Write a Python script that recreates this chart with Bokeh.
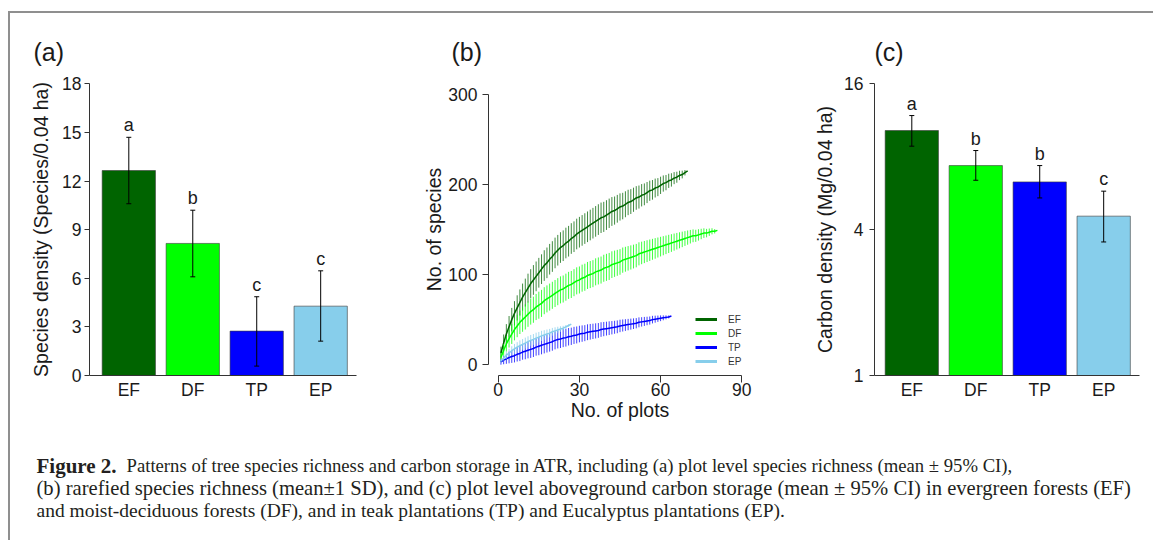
from bokeh.plotting import figure
from bokeh.models import (Range1d, ColumnDataSource, Whisker, TeeHead, FixedTicker, Title,
                          Label, Legend, LegendItem, Spacer, BasicTickFormatter)
from bokeh.layouts import row, column
from bokeh.core.properties import value
from bokeh.embed import file_html
from bokeh.resources import INLINE

FONT = "Liberation Sans"
SERIF = "Liberation Serif"
INK = "#1a1a1a"
AXIS = "#333333"
FRAME_GRAY = "#8f8f8f"

# ---------------- data ----------------
categories = ["EF", "DF", "TP", "EP"]
group_colors = ["#006400", "#00FF00", "#0000FF", "#87CEEB"]

species_density = [12.65, 8.15, 2.74, 4.28]
species_ci_low = [10.6, 6.09, 0.58, 2.12]
species_ci_high = [14.7, 10.2, 4.86, 6.46]
species_letters = ["a", "b", "c", "c"]
species_ticks = [0, 3, 6, 9, 12, 15, 18]

carbon_density = [10.27, 7.36, 6.30, 4.55]
carbon_ci_low = [8.85, 6.40, 5.41, 3.56]
carbon_ci_high = [11.84, 8.49, 7.36, 5.77]
carbon_letters = ["a", "b", "b", "c"]
carbon_ticks = [1, 4, 16]

plots_ticks = [0, 30, 60, 90]
rich_ticks = [0, 100, 200, 300]

ef_mean = [13, 24, 34, 42, 50, 57, 63, 69, 75, 80,
           85, 90, 94, 98, 102, 106, 110, 113, 117, 120, 124, 127,
           130, 132, 135, 137, 140, 142, 145, 147, 149, 151, 153, 155,
           157, 159, 161, 163, 164, 166, 168, 170, 171, 173, 175, 176,
           178, 180, 181, 183, 185, 186, 188, 189, 191, 193, 194, 196,
           197, 199, 201, 202, 204, 205, 207, 208, 210, 211, 213, 215]
ef_sd = [7, 9.5, 11, 12, 13, 13.5, 14, 14.5, 15, 15.5,
         16, 16, 16.5, 16.5, 16.5, 16.5, 17, 17, 17, 17,
         17, 17, 17, 17, 17, 17, 17, 17, 17, 17,
         17, 17, 17, 17, 17, 17, 17, 16.9, 16.7, 16.5,
         16.3, 16.0, 15.6, 15.4, 15.1, 14.7, 14.4, 14.1, 13.8, 13.4,
         13.1, 12.8, 12.4, 12.1, 11.7, 11.2, 10.9, 10.5, 10.0, 9.6,
         9.0, 8.5, 7.9, 7.4, 6.7, 6.1, 5.2, 4.3, 3.0, 0]

df_mean = [8, 16, 23, 29, 34, 39, 43, 47, 50, 53,
           56, 59, 61, 64, 66, 68, 71, 73, 75, 77, 79, 81,
           83, 84, 86, 88, 89, 91, 93, 94, 96, 97, 99, 100,
           101, 103, 104, 105, 107, 108, 109, 111, 112, 113, 114, 116,
           117, 118, 119, 120, 121, 123, 124, 125, 126, 127, 128, 129,
           130, 131, 132, 133, 134, 135, 136, 137, 138, 139, 140, 141,
           142, 143, 143, 144, 145, 146, 146, 147, 148, 148, 149]
df_sd = [5, 7, 8.5, 10, 11, 12, 12.5, 13, 13.5, 14,
         14, 14.5, 14.5, 14.5, 15, 15, 15, 15, 15, 15,
         15, 15, 15, 15, 15, 15, 15, 15, 15, 15,
         15, 15, 15, 15, 15, 15, 15, 15, 15, 15,
         15, 14.8, 14.6, 14.4, 14.2, 14.0, 13.8, 13.6, 13.4, 13.2,
         13.0, 12.8, 12.5, 12.3, 12.1, 11.9, 11.6, 11.4, 11.1, 10.9,
         10.6, 10.3, 10.1, 9.8, 9.5, 9.2, 8.9, 8.6, 8.2, 7.9,
         7.5, 7.1, 6.7, 6.3, 5.8, 5.3, 4.7, 4.1, 3.4, 2.4, 0]

tp_mean = [3, 5, 6.5, 8, 9, 10, 11.5, 12.5, 14, 15,
           16, 17, 18, 19.5, 20.5, 21.5, 22.5, 23.5, 24.5, 25.5, 27, 28,
           28.5, 29.5, 30, 31, 31.5, 32.5, 33, 34, 34.5, 35, 36, 36.5,
           37, 37.5, 38, 39, 39.5, 40, 40.5, 41, 41.5, 42, 43, 43.5,
           44, 44.5, 45, 45.5, 46, 47, 47.5, 48, 48.5, 49, 50, 50.5,
           51, 51.5, 52, 52.5, 53, 54]
tp_sd = [3, 4.5, 5.5, 6.5, 7, 7.5, 8, 8.5, 8.5, 9,
         9, 9.5, 9.5, 9.5, 10, 10, 10, 10, 10, 10, 10, 10, 10,
         10, 9.9, 9.7, 9.6, 9.5, 9.4, 9.2, 9.1, 8.9, 8.8,
         8.7, 8.5, 8.4, 8.2, 8.1, 7.9, 7.7, 7.6, 7.4, 7.2,
         7.1, 6.9, 6.7, 6.5, 6.3, 6.1, 5.9, 5.7, 5.5, 5.2,
         5.0, 4.7, 4.5, 4.2, 3.9, 3.5, 3.2, 2.7, 2.2, 1.6, 0]

ep_mean = [4, 7.5, 10.5, 13, 15.5, 17.5, 19.5, 21, 22.5, 24,
           25.5, 27, 28, 29.5, 30.5, 32, 33, 34, 35, 36.5,
           37.5, 38.5, 39.5, 40.5, 42, 43.5, 45]
ep_sd = [2, 3, 4, 4.5, 5, 5.5, 5.5, 6, 6, 6,
         6, 6, 6, 6, 5.8, 5.6, 5.3, 5.0, 4.7, 4.3,
         4.0, 3.6, 3.1, 2.6, 2.0, 1.4, 0]

rarefaction = {"EF": (ef_mean, ef_sd), "DF": (df_mean, df_sd),
               "TP": (tp_mean, tp_sd), "EP": (ep_mean, ep_sd)}

caption_bold = "Figure 2."
caption_line1 = ("Patterns of tree species richness and carbon storage in ATR, including (a) plot "
                 "level species richness (mean \u00b1 95% CI),")
caption_line2 = ("(b) rarefied species richness (mean\u00b11 SD), and (c) plot level aboveground carbon "
                 "storage (mean \u00b1 95% CI) in evergreen forests (EF)")
caption_line3 = ("and moist-deciduous forests (DF), and in teak plantations (TP) and Eucalyptus "
                 "plantations (EP).")

# bar positions as in R's barplot (width 1, space 0.2)
bar_centers = [0.7 + 1.2 * i for i in range(len(categories))]

TOP, FRAME_H, BOTTOM = 70, 292, 50


def style_axis(ax):
    ax.axis_line_color = AXIS
    ax.axis_line_width = 1
    ax.major_tick_line_color = AXIS
    ax.minor_tick_line_color = None
    ax.major_label_text_font = FONT
    ax.major_label_text_font_size = "17.5px"
    ax.major_label_text_color = INK
    ax.axis_label_text_font = FONT
    ax.axis_label_text_font_size = "19.5px"
    ax.axis_label_text_font_style = "normal"
    ax.axis_label_text_color = INK


def clean(p):
    p.xgrid.visible = False
    p.ygrid.visible = False
    p.outline_line_color = None
    p.background_fill_color = None
    p.border_fill_color = None


def panel_title(text, offset):
    return Title(text=text, align="left", offset=offset, standoff=35, text_font=FONT,
                 text_font_size="25px", text_font_style="normal", text_color=INK)


def bar_panel(values, lo, hi, letters, ticks, ylabel, log, frame_w, min_left, min_right,
              x_range, y_range, bounds, label_standoff, title_standoff, title):
    kw = dict(y_axis_type="log") if log else {}
    p = figure(frame_width=frame_w, frame_height=FRAME_H, x_range=x_range,
               y_range=y_range, min_border_left=min_left, min_border_right=min_right,
               min_border_top=TOP, min_border_bottom=BOTTOM, output_backend="svg",
               toolbar_location=None, title=title, **kw)
    clean(p)
    src = ColumnDataSource(dict(x=bar_centers, top=values, lo=lo, hi=hi, color=group_colors,
                                letter=letters, cat=categories))
    bottom = 1 if log else 0
    p.vbar(x="x", top="top", bottom=bottom, width=1.0, fill_color="color", source=src,
           line_color="#3a3a3a", line_alpha=0.6, line_width=1)
    p.add_layout(Whisker(base="x", upper="hi", lower="lo", source=src, line_color="black",
                         line_width=1, level="overlay",
                         upper_head=TeeHead(size=5, line_color="black", line_width=1),
                         lower_head=TeeHead(size=5, line_color="black", line_width=1)))
    p.text(x="x", y="hi", text="letter", source=src, y_offset=-12, text_align="center",
           text_baseline="middle", text_font=value(FONT), text_font_size=value("18px"),
           text_color=INK)
    ya = p.yaxis[0]
    style_axis(ya)
    ya.ticker = FixedTicker(ticks=ticks)
    if log:
        ya.formatter = BasicTickFormatter()
    ya.bounds = bounds
    ya.major_tick_out = 5
    ya.major_tick_in = 0
    ya.major_label_standoff = label_standoff
    ya.axis_label = ylabel
    ya.axis_label_standoff = title_standoff
    xa = p.xaxis[0]
    style_axis(xa)
    xa.ticker = FixedTicker(ticks=bar_centers)
    xa.major_label_overrides = {c: cat for c, cat in zip(bar_centers, categories)}
    xa.major_tick_out = 0
    xa.major_tick_in = 0
    xa.major_label_standoff = 4
    return p


# ---------------- panel (a) ----------------
pa = bar_panel(species_density, species_ci_low, species_ci_high, species_letters, species_ticks,
               "Species density (Species/0.04 ha)", False, 267, 79, 64,
               Range1d(-0.0375, 4.972), Range1d(0, 18.02), (0, 18), 3, 7,
               panel_title("(a)", -56))

# ---------------- panel (c) ----------------
pc = bar_panel(carbon_density, carbon_ci_low, carbon_ci_high, carbon_letters, carbon_ticks,
               "Carbon density (Mg/0.04 ha)", True, 265, 83, 15,
               Range1d(0.0, 4.972), Range1d(1, 16.06), (1, 16), 6, 5,
               panel_title("(c)", 0))

# ---------------- panel (b) ----------------
pb = figure(frame_width=263, frame_height=FRAME_H, x_range=Range1d(-3.6, 93.6),
            y_range=Range1d(-12, 312), min_border_left=67, min_border_right=40,
            min_border_top=TOP, min_border_bottom=BOTTOM, output_backend="svg",
            toolbar_location=None, title=panel_title("(b)", -37))
clean(pb)
legend_items = []
for cat, col in zip(categories, group_colors):
    mean, sd = rarefaction[cat]
    xs = list(range(1, len(mean) + 1))
    s = ColumnDataSource(dict(x=xs, m=mean, lo=[m - d for m, d in zip(mean, sd)],
                              hi=[m + d for m, d in zip(mean, sd)]))
    pb.segment(x0="x", y0="lo", x1="x", y1="hi", source=s, line_color=col, line_alpha=0.75,
               line_width=1)
    pb.line(x="x", y="m", source=s, line_color=col, line_width=1.5)
    key = pb.line(x=[float("nan")], y=[float("nan")], line_color=col, line_width=3)
    legend_items.append(LegendItem(label=cat, renderers=[key]))

leg = Legend(items=legend_items, location=(207, 7), border_line_color=None,
             background_fill_alpha=0, padding=0, margin=0, spacing=0, glyph_width=22,
             glyph_height=14, label_height=14, label_standoff=11,
             label_text_font=FONT, label_text_font_size="10px", label_text_color="#333333")
pb.add_layout(leg)

xb = pb.xaxis[0]
style_axis(xb)
xb.ticker = FixedTicker(ticks=plots_ticks)
xb.bounds = (0, 90)
xb.major_tick_out = 7
xb.major_tick_in = 0
xb.major_label_standoff = 0
xb.axis_label = "No. of plots"
xb.axis_label_standoff = 0
yb = pb.yaxis[0]
style_axis(yb)
yb.ticker = FixedTicker(ticks=rich_ticks)
yb.bounds = (0, 300)
yb.major_tick_out = 6
yb.major_tick_in = 0
yb.major_label_standoff = 5
yb.axis_label = "No. of species"
yb.axis_label_standoff = 0

# ---------------- caption ----------------
ROW_BOTTOM = 13 + TOP + FRAME_H + BOTTOM
cap = figure(width=1143, height=540 - ROW_BOTTOM, x_range=Range1d(10, 1153),
             y_range=Range1d(540, ROW_BOTTOM), min_border=0, output_backend="svg",
             toolbar_location=None, x_axis_location=None, y_axis_location=None)
clean(cap)
cap_kw = dict(text_font=SERIF, text_color="#231f20", text_baseline="middle", text_align="left")
cap.add_layout(Label(x=36, y=465, text=caption_bold, text_font_style="bold",
                     text_font_size="21px", **cap_kw))
cap.add_layout(Label(x=126, y=465, text=caption_line1, text_font_size="18.7px", **cap_kw))
cap.add_layout(Label(x=36, y=487.5, text=caption_line2, text_font_size="20.6px", **cap_kw))
cap.add_layout(Label(x=36, y=510, text=caption_line3, text_font_size="19.5px", **cap_kw))

# ---------------- page frame ----------------
top_line = row(Spacer(width=8, height=2),
               Spacer(width=1145, height=2, styles={"background-color": FRAME_GRAY}))
body = row(Spacer(width=8, height=527),
           Spacer(width=2, height=527, styles={"background-color": FRAME_GRAY}),
           column(row(pa, pb, pc), cap))
layout = column(Spacer(width=1153, height=11), top_line, body)

open("out.html", "w").write(file_html(layout, INLINE))
